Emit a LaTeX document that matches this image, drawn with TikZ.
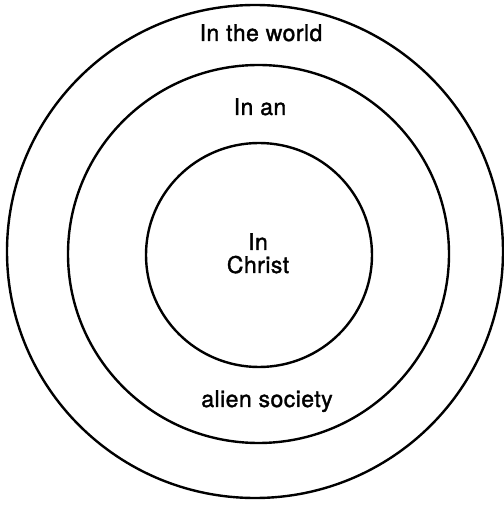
\documentclass[tikz,border=0pt]{standalone}
\usepackage{fontspec}
\setmainfont{TeX Gyre Heros}[FakeBold=1.5,LetterSpace=2]
\usetikzlibrary{shapes.geometric}
\begin{document}
\begin{tikzpicture}[x=1pt,y=1pt,
  ring/.style={draw=black,line width=2.4pt,ellipse,inner sep=0pt},
  lbl/.style={anchor=base,inner sep=0pt,font=\fontsize{23}{27}\selectfont}]
\useasboundingbox (0,0) rectangle (504,507);
\node[ring,minimum width=496pt,minimum height=493pt] (outer) at (255,255.5) {};
\node[ring,minimum width=381pt,minimum height=378pt] (middle) at (258.5,253) {};
\node[ring,minimum width=226pt,minimum height=224pt] (inner) at (259,252) {};
\node[lbl] (world) at (261,466) {In the world};
\node[lbl] (inan) at (260,392) {In an};
\node[lbl] (in) at (258,257) {In};
\node[lbl] (christ) at (258,234) {Christ};
\node[lbl] (alien) at (267,100) {alien society};
\end{tikzpicture}
\end{document}
